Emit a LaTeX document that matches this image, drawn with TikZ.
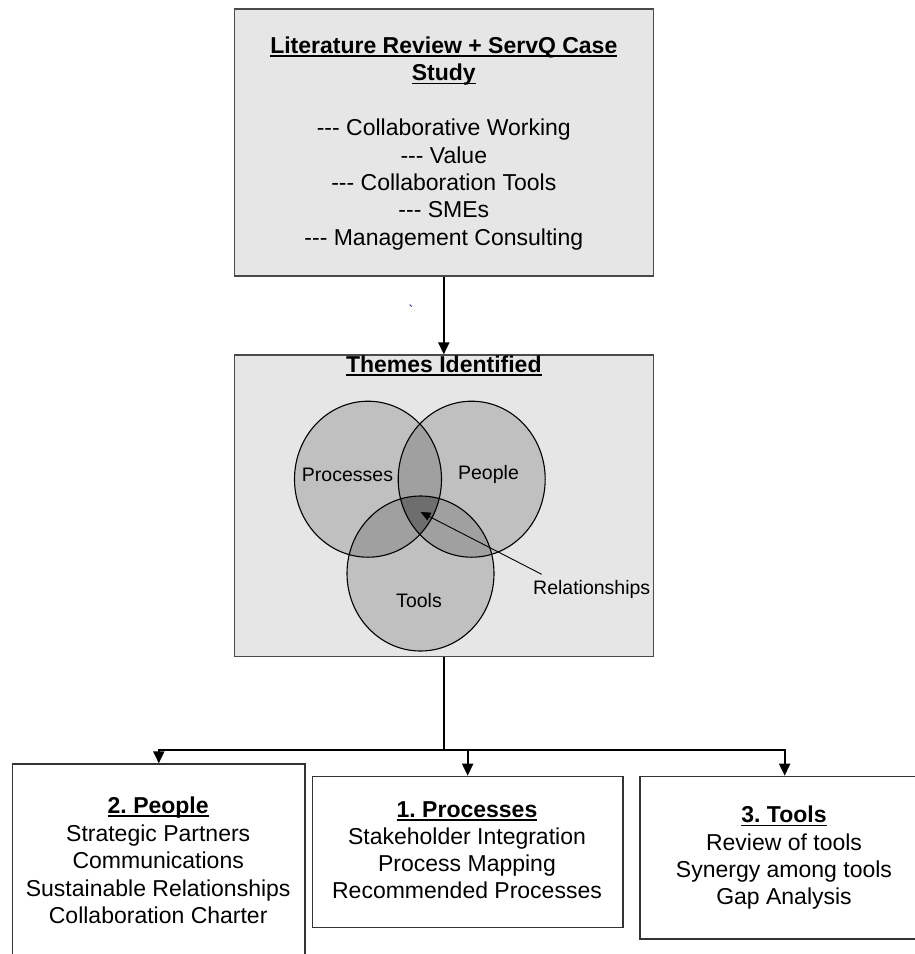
\documentclass[tikz,border=0pt]{standalone}
\usepackage{fontspec}
\setmainfont{Liberation Sans}
\usetikzlibrary{arrows.meta}
\definecolor{boxgray}{HTML}{E6E6E6}
\definecolor{vone}{HTML}{C0C0C0}
\definecolor{vtwo}{HTML}{A0A0A0}
\definecolor{vthree}{HTML}{6E6E6E}
\definecolor{edgegray}{HTML}{4A4A4A}
\newsavebox{\ulbfbox}
\newcommand{\ulbf}[1]{\sbox{\ulbfbox}{\bfseries #1}\rlap{\rule[-3.5pt]{\wd\ulbfbox}{1.7pt}}\usebox{\ulbfbox}}
\newcommand{\tridash}{-{}-{}-}
\frenchspacing
\tikzset{
  boxshape/.style={draw=edgegray, line width=1.3pt, inner sep=0pt, rectangle},
  txt/.style={inner sep=0pt, align=center, font=\fontsize{23}{27.4}\selectfont\frenchspacing},
  vlabel/.style={inner sep=0pt, font=\fontsize{19.5}{23}\selectfont},
  conn/.style={draw=black, line width=1.9pt, line join=miter},
  arr/.style={-{Triangle[length=12pt,width=11pt]}},
  venn/.style={line width=1.1pt, draw=black}
}
\begin{document}
\begin{tikzpicture}[x=1pt,y=-1pt]
\useasboundingbox (0,0) rectangle (915,954);
% top box
\node[boxshape, fill=boxgray, minimum width=419pt, minimum height=267pt] (lit) at (443.8,142.5) {};
\node[txt, anchor=north] (litT) at (443.8,35.3) {\rule{0pt}{18pt}\ulbf{Literature Review + ServQ Case}\\\ulbf{Study}\\[27.4pt]\tridash{} Collaborative Working\\\tridash{} Value\\\tridash{} Collaboration Tools\\\tridash{} SMEs\\\tridash{} Management Consulting};
% stray mark
\node[inner sep=0pt, font=\fontsize{14}{14}\selectfont, text=blue!50!black] (tick) at (411,310) {\textasciigrave};
% themes box
\node[boxshape, fill=boxgray, minimum width=419pt, minimum height=301.7pt] (themes) at (443.8,505.85) {};
\node[txt, anchor=base] (themesT) at (443.8,372) {\ulbf{Themes Identified}};
% venn
\def\EP{(368,479.2) ellipse [x radius=73.5pt, y radius=78pt]}
\def\EQ{(471.7,479.2) ellipse [x radius=73.5pt, y radius=78pt]}
\def\ET{(420.5,573.5) ellipse [x radius=73.5pt, y radius=77.5pt]}
\fill[vone] \EP;
\fill[vone] \EQ;
\fill[vone] \ET;
\begin{scope}
  \clip \EP;
  \fill[vtwo] \EQ;
  \fill[vtwo] \ET;
\end{scope}
\begin{scope}
  \clip \EQ;
  \fill[vtwo] \ET;
\end{scope}
\begin{scope}
  \clip \EP;
  \clip \EQ;
  \fill[vthree] \ET;
\end{scope}
\draw[venn] \EP;
\draw[venn] \EQ;
\draw[venn] \ET;
\node[vlabel, anchor=base] (lproc) at (347.5,481.7) {Processes};
\node[vlabel, anchor=base] (lpeople) at (488.5,479.3) {People};
\node[vlabel, anchor=base] (ltools) at (419,607.7) {Tools};
\node[vlabel, anchor=base] (lrel) at (591.7,594.3) {Relationships};
\coordinate (relfrom) at (541.7,574.3);
\coordinate (relto) at (420.5,512);
\draw[line width=0.9pt, -{Triangle[length=10pt,width=8.5pt]}] (relfrom) -- (relto);
% bottom boxes
\node[boxshape, draw=black!80, minimum width=292.3pt, minimum height=230pt, anchor=north west] (people) at (12,763.3) {};
\node[boxshape, draw=black!80, minimum width=310.6pt, minimum height=151pt, anchor=north west] (proc) at (311.7,775.7) {};
\node[boxshape, draw=black!80, minimum width=289.4pt, minimum height=162.6pt, anchor=north west] (tools) at (639.3,775.7) {};
\node[txt, anchor=north, font=\fontsize{23}{27.5}\selectfont] (peopleT) at (158.2,795.3) {\rule{0pt}{18pt}\ulbf{2. People}\\Strategic Partners\\Communications\\Sustainable Relationships\\Collaboration Charter};
\node[txt, anchor=north, font=\fontsize{23}{27}\selectfont] (procT) at (467,799.3) {\rule{0pt}{18pt}\ulbf{1. Processes}\\Stakeholder Integration\\Process Mapping\\Recommended Processes};
\node[txt, anchor=north, font=\fontsize{23}{27.1}\selectfont] (toolsT) at (784,804.7) {\rule{0pt}{18pt}\ulbf{3. Tools}\\Review of tools\\Synergy among tools\\Gap Analysis};
% connectors
\draw[conn, arr] (lit.south) -- (themes.north);
\coordinate (junc) at (443.8,750);
\draw[conn] (themes.south) -- (junc);
\draw[conn, arr] (junc) -| (people.north);
\draw[conn, arr] (junc) -| (proc.north);
\draw[conn, arr] (junc) -| (tools.north);
\end{tikzpicture}
\end{document}
